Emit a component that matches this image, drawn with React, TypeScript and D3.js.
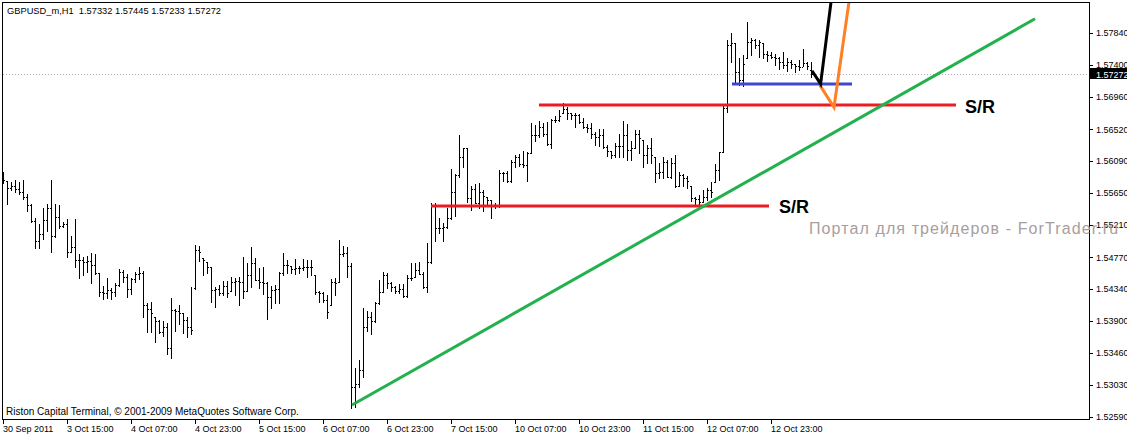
import React from 'react';
import * as d3 from 'd3';

const opens = [
  1.5589, 1.5581, 1.5572, 1.5574, 1.5570, 1.5566, 1.5559, 1.5548, 1.5527, 1.5499,
  1.5509, 1.5528, 1.5544, 1.5506, 1.5532, 1.5520, 1.5522, 1.5484, 1.5491, 1.5473,
  1.5473, 1.5471, 1.5472, 1.5466, 1.5456, 1.5429, 1.5428, 1.5432, 1.5429, 1.5439,
  1.5457, 1.5450, 1.5434, 1.5447, 1.5454, 1.5456, 1.5412, 1.5406, 1.5395, 1.5390,
  1.5375, 1.5382, 1.5353, 1.5405, 1.5404, 1.5401, 1.5391, 1.5382, 1.5435, 1.5487,
  1.5476, 1.5471, 1.5464, 1.5432, 1.5434, 1.5428, 1.5438, 1.5431, 1.5443, 1.5445,
  1.5443, 1.5431, 1.5453, 1.5469, 1.5446, 1.5443, 1.5442, 1.5423, 1.5432, 1.5434,
  1.5456, 1.5466, 1.5465, 1.5461, 1.5462, 1.5462, 1.5464, 1.5464, 1.5453, 1.5429,
  1.5428, 1.5419, 1.5412, 1.5443, 1.5443, 1.5481, 1.5483, 1.5465, 1.5300, 1.5304,
  1.5323, 1.5382, 1.5395, 1.5390, 1.5414, 1.5429, 1.5453, 1.5442, 1.5436, 1.5431,
  1.5434, 1.5424, 1.5449, 1.5450, 1.5460, 1.5454, 1.5436, 1.5471, 1.5548, 1.5517,
  1.5517, 1.5518, 1.5531, 1.5566, 1.5589, 1.5614, 1.5626, 1.5558, 1.5570, 1.5551,
  1.5566, 1.5559, 1.5555, 1.5548, 1.5548, 1.5592, 1.5592, 1.5581, 1.5607, 1.5614,
  1.5604, 1.5603, 1.5620, 1.5644, 1.5644, 1.5655, 1.5646, 1.5632, 1.5665, 1.5665,
  1.5674, 1.5680, 1.5674, 1.5671, 1.5671, 1.5662, 1.5655, 1.5654, 1.5646, 1.5641,
  1.5644, 1.5628, 1.5622, 1.5617, 1.5629, 1.5629, 1.5644, 1.5624, 1.5626, 1.5646,
  1.5637, 1.5617, 1.5626, 1.5614, 1.5592, 1.5594, 1.5607, 1.5587, 1.5606, 1.5574,
  1.5589, 1.5585, 1.5574, 1.5558, 1.5557, 1.5553, 1.5559, 1.5569, 1.5580, 1.5596,
  1.5621, 1.5681, 1.5767, 1.5770, 1.5730, 1.5719, 1.5749, 1.5771, 1.5774, 1.5767,
  1.5770, 1.5755, 1.5754, 1.5751, 1.5749, 1.5744, 1.5740, 1.5744, 1.5741, 1.5738,
  1.5737, 1.5743, 1.57332,
];

const highs = [
  1.5594, 1.5581, 1.5580, 1.5583, 1.5580, 1.5583, 1.5563, 1.5550, 1.5531, 1.5522,
  1.5544, 1.5550, 1.5583, 1.5550, 1.5548, 1.5525, 1.5529, 1.5506, 1.5529, 1.5481,
  1.5477, 1.5479, 1.5483, 1.5481, 1.5456, 1.5438, 1.5449, 1.5435, 1.5442, 1.5461,
  1.5460, 1.5454, 1.5449, 1.5457, 1.5464, 1.5458, 1.5414, 1.5416, 1.5395, 1.5391,
  1.5390, 1.5387, 1.5421, 1.5406, 1.5412, 1.5401, 1.5395, 1.5436, 1.5494, 1.5492,
  1.5476, 1.5471, 1.5464, 1.5436, 1.5439, 1.5445, 1.5445, 1.5450, 1.5449, 1.5450,
  1.5477, 1.5469, 1.5491, 1.5476, 1.5462, 1.5464, 1.5443, 1.5438, 1.5439, 1.5457,
  1.5483, 1.5473, 1.5465, 1.5475, 1.5465, 1.5475, 1.5473, 1.5473, 1.5453, 1.5431,
  1.5429, 1.5425, 1.5447, 1.5449, 1.5501, 1.5492, 1.5491, 1.5469, 1.5326, 1.5337,
  1.5408, 1.5404, 1.5402, 1.5416, 1.5446, 1.5457, 1.5456, 1.5443, 1.5438, 1.5440,
  1.5440, 1.5453, 1.5469, 1.5469, 1.5471, 1.5457, 1.5496, 1.5551, 1.5551, 1.5531,
  1.5524, 1.5544, 1.5598, 1.5591, 1.5644, 1.5626, 1.5626, 1.5574, 1.5577, 1.5579,
  1.5569, 1.5559, 1.5555, 1.5551, 1.5596, 1.5594, 1.5595, 1.5610, 1.5617, 1.5618,
  1.5622, 1.5621, 1.5661, 1.5658, 1.5663, 1.5661, 1.5662, 1.5666, 1.5670, 1.5678,
  1.5688, 1.5682, 1.5674, 1.5674, 1.5673, 1.5667, 1.5659, 1.5661, 1.5648, 1.5652,
  1.5652, 1.5630, 1.5622, 1.5633, 1.5646, 1.5663, 1.5659, 1.5636, 1.5651, 1.5651,
  1.5637, 1.5630, 1.5640, 1.5614, 1.5606, 1.5614, 1.5610, 1.5613, 1.5617, 1.5594,
  1.5591, 1.5588, 1.5574, 1.5559, 1.5562, 1.5569, 1.5572, 1.5580, 1.5604, 1.5621,
  1.5685, 1.5774, 1.5784, 1.5770, 1.5749, 1.5754, 1.5799, 1.5777, 1.5775, 1.5774,
  1.5770, 1.5759, 1.5758, 1.5755, 1.5751, 1.5758, 1.5749, 1.5747, 1.5741, 1.5747,
  1.5762, 1.5744, 1.57445,
];

const lows = [
  1.5579, 1.5550, 1.5569, 1.5566, 1.5563, 1.5557, 1.5540, 1.5525, 1.5490, 1.5490,
  1.5502, 1.5513, 1.5484, 1.5505, 1.5517, 1.5518, 1.5477, 1.5484, 1.5464, 1.5449,
  1.5453, 1.5457, 1.5442, 1.5454, 1.5424, 1.5420, 1.5421, 1.5420, 1.5424, 1.5438,
  1.5443, 1.5423, 1.5427, 1.5443, 1.5447, 1.5395, 1.5375, 1.5375, 1.5361, 1.5373,
  1.5369, 1.5345, 1.5339, 1.5376, 1.5386, 1.5373, 1.5368, 1.5372, 1.5434, 1.5472,
  1.5453, 1.5456, 1.5416, 1.5409, 1.5425, 1.5425, 1.5423, 1.5431, 1.5425, 1.5412,
  1.5421, 1.5431, 1.5436, 1.5446, 1.5435, 1.5427, 1.5393, 1.5408, 1.5414, 1.5414,
  1.5453, 1.5456, 1.5456, 1.5454, 1.5456, 1.5460, 1.5450, 1.5453, 1.5427, 1.5416,
  1.5416, 1.5394, 1.5412, 1.5425, 1.5443, 1.5479, 1.5450, 1.5271, 1.5272, 1.5300,
  1.5313, 1.5376, 1.5372, 1.5388, 1.5413, 1.5429, 1.5435, 1.5431, 1.5428, 1.5428,
  1.5423, 1.5423, 1.5446, 1.5450, 1.5454, 1.5435, 1.5429, 1.5469, 1.5499, 1.5510,
  1.5499, 1.5517, 1.5529, 1.5533, 1.5587, 1.5600, 1.5553, 1.5542, 1.5551, 1.5544,
  1.5540, 1.5550, 1.5531, 1.5544, 1.5546, 1.5581, 1.5580, 1.5580, 1.5600, 1.5602,
  1.5600, 1.5581, 1.5620, 1.5636, 1.5641, 1.5643, 1.5630, 1.5626, 1.5662, 1.5663,
  1.5674, 1.5666, 1.5666, 1.5655, 1.5661, 1.5654, 1.5648, 1.5640, 1.5630, 1.5629,
  1.5626, 1.5615, 1.5613, 1.5614, 1.5614, 1.5614, 1.5610, 1.5610, 1.5626, 1.5620,
  1.5600, 1.5606, 1.5606, 1.5580, 1.5585, 1.5585, 1.5587, 1.5585, 1.5573, 1.5574,
  1.5574, 1.5572, 1.5554, 1.5550, 1.5550, 1.5553, 1.5555, 1.5559, 1.5580, 1.5583,
  1.5621, 1.5676, 1.5744, 1.5717, 1.5712, 1.5711, 1.5749, 1.5754, 1.5763, 1.5751,
  1.5749, 1.5745, 1.5749, 1.5740, 1.5734, 1.5736, 1.5732, 1.5736, 1.5730, 1.5733,
  1.5738, 1.5734, 1.57233,
];

const closes = [
  1.5583, 1.5572, 1.5574, 1.5570, 1.5566, 1.5559, 1.5548, 1.5527, 1.5499, 1.5509,
  1.5528, 1.5544, 1.5506, 1.5532, 1.5520, 1.5522, 1.5484, 1.5491, 1.5473, 1.5473,
  1.5471, 1.5472, 1.5466, 1.5456, 1.5429, 1.5428, 1.5432, 1.5429, 1.5439, 1.5457,
  1.5450, 1.5434, 1.5447, 1.5454, 1.5456, 1.5412, 1.5406, 1.5401, 1.5390, 1.5375,
  1.5382, 1.5353, 1.5405, 1.5404, 1.5401, 1.5391, 1.5382, 1.5378, 1.5487, 1.5484,
  1.5473, 1.5464, 1.5432, 1.5434, 1.5428, 1.5438, 1.5428, 1.5443, 1.5445, 1.5443,
  1.5431, 1.5453, 1.5469, 1.5446, 1.5443, 1.5442, 1.5423, 1.5432, 1.5434, 1.5456,
  1.5466, 1.5466, 1.5461, 1.5462, 1.5462, 1.5464, 1.5464, 1.5464, 1.5429, 1.5428,
  1.5419, 1.5402, 1.5443, 1.5442, 1.5481, 1.5483, 1.5465, 1.5300, 1.5304, 1.5323,
  1.5382, 1.5395, 1.5390, 1.5414, 1.5429, 1.5453, 1.5442, 1.5436, 1.5431, 1.5434,
  1.5424, 1.5449, 1.5449, 1.5460, 1.5454, 1.5436, 1.5471, 1.5548, 1.5517, 1.5517,
  1.5518, 1.5531, 1.5566, 1.5589, 1.5614, 1.5626, 1.5558, 1.5570, 1.5551, 1.5566,
  1.5561, 1.5555, 1.5548, 1.5548, 1.5592, 1.5592, 1.5581, 1.5607, 1.5614, 1.5604,
  1.5603, 1.5620, 1.5644, 1.5644, 1.5655, 1.5646, 1.5632, 1.5665, 1.5665, 1.5670,
  1.5680, 1.5674, 1.5671, 1.5671, 1.5662, 1.5655, 1.5654, 1.5646, 1.5641, 1.5644,
  1.5628, 1.5622, 1.5617, 1.5629, 1.5629, 1.5644, 1.5624, 1.5626, 1.5646, 1.5640,
  1.5617, 1.5626, 1.5617, 1.5592, 1.5594, 1.5607, 1.5587, 1.5606, 1.5574, 1.5589,
  1.5585, 1.5581, 1.5558, 1.5557, 1.5553, 1.5559, 1.5569, 1.5566, 1.5596, 1.5621,
  1.5681, 1.5767, 1.5770, 1.5730, 1.5719, 1.5741, 1.5771, 1.5774, 1.5767, 1.5771,
  1.5755, 1.5754, 1.5751, 1.5749, 1.5744, 1.5740, 1.5744, 1.5741, 1.5738, 1.5737,
  1.5743, 1.5738, 1.57272,
];

const timeTickIndex = [0, 16, 32, 48, 64, 80, 96, 112, 128, 144, 160, 176, 192];
const timeTickLabels = [
  '30 Sep 2011', '3 Oct 15:00', '4 Oct 07:00', '4 Oct 23:00', '5 Oct 15:00',
  '6 Oct 07:00', '6 Oct 23:00', '7 Oct 15:00', '10 Oct 07:00', '10 Oct 23:00',
  '11 Oct 15:00', '12 Oct 07:00', '12 Oct 23:00',
];

const priceTickLabels = [
  '1.57840', '1.57400', '1.56960', '1.56520', '1.56090', '1.55650', '1.55210',
  '1.54770', '1.54340', '1.53900', '1.53460', '1.53030', '1.52590',
];

const currentPrice = 1.57272;
const titleText = 'GBPUSD_m,H1  1.57332 1.57445 1.57233 1.57272';
const footerText = 'Riston Capital Terminal, \u00A9 2001-2009 MetaQuotes Software Corp.';
const watermarkText = 'Портал для трейдеров - ForTrader.ru';

// hand-drawn annotations: [bar index, price]
const trendLine: [number, number][] = [[87.25, 1.5275], [258, 1.5803]];
const srUpper: [number, number][] = [[134, 1.5685], [238.25, 1.5685]];
const srLower: [number, number][] = [[107, 1.5547], [191.5, 1.5547]];
const blueLine: [number, number][] = [[182.25, 1.5714], [212.25, 1.5714]];
const blackPath: [number, number][] = [[202.25, 1.5732], [204.4, 1.5714], [207.1, 1.5830]];
const orangePath: [number, number][] = [[204.25, 1.5712], [207.75, 1.5682], [211.6, 1.5830]];
const srLabels: [number, number, string][] = [[240.5, 1.5674, 'S/R'], [194, 1.5538, 'S/R']];

const FONT = "'Liberation Sans', Arial, sans-serif";

export default function App() {
  const W = 1127;
  const H = 436;
  const x = d3.scaleLinear().domain([0, 200]).range([3, 803]);
  const y = d3.scaleLinear().domain([1.5259, 1.5784]).range([416.7, 32.7]);
  const line = d3.line<[number, number]>().x((d) => x(d[0])).y((d) => y(d[1]));

  const bars = opens.map((o, i) => {
    const xi = Math.round(x(i));
    const yh = Math.round(y(highs[i]));
    const yl = Math.round(y(lows[i]));
    const yo = Math.round(y(o));
    const yc = Math.round(y(closes[i]));
    return (
      <g key={i}>
        <rect x={xi} y={yh} width={1} height={Math.max(1, yl - yh + 1)} fill="#000" />
        <rect x={xi - 1} y={yo} width={1} height={1} fill="#000" />
        <rect x={xi + 1} y={yc} width={1} height={1} fill="#000" />
      </g>
    );
  });

  const yCur = y(currentPrice);

  return (
    <svg
      width={W}
      height={H}
      style={{ position: 'absolute', left: 0, top: 0, background: '#fff' }}
    >
      <defs>
        <clipPath id="plot">
          <rect x={3} y={3} width={1086} height={416} />
        </clipPath>
      </defs>
      <rect x={0} y={0} width={W} height={H} fill="#fff" />

      {/* current price dotted line */}
      <line
        x1={3}
        x2={1089}
        y1={Math.round(yCur) + 0.5}
        y2={Math.round(yCur) + 0.5}
        stroke="#b3abbb"
        strokeWidth={1}
        strokeDasharray="1,2"
        shapeRendering="crispEdges"
      />

      <g clipPath="url(#plot)" shapeRendering="crispEdges">{bars}</g>

      {/* frame */}
      <rect x={2.5} y={2.5} width={1087} height={417} fill="none" stroke="#000" strokeWidth={1} shapeRendering="crispEdges" />

      {/* annotations */}
      <g clipPath="url(#plot)" fill="none" strokeWidth={3} strokeLinecap="butt" strokeLinejoin="miter">
        <path d={line(srLower) || ''} stroke="#ed1c24" />
        <path d={line(srUpper) || ''} stroke="#ed1c24" />
        <path d={line(blueLine) || ''} stroke="#3f48cc" />
        <path d={line(trendLine) || ''} stroke="#22b14c" />
        <path d={line(orangePath) || ''} stroke="#ff7f27" />
        <path d={line(blackPath) || ''} stroke="#000" />
      </g>

      {srLabels.map(([i, p, t], k) => (
        <text key={k} x={x(i)} y={y(p)} fontFamily={FONT} fontSize={18} fontWeight="bold" fill="#000">
          {t}
        </text>
      ))}

      {/* title & footer */}
      <text x={7} y={14} fontFamily={FONT} fontSize={9.3} fill="#000" style={{ whiteSpace: 'pre' }}>
        {titleText}
      </text>
      <text x={6} y={414.5} fontFamily={FONT} fontSize={10} fill="#000">
        {footerText}
      </text>

      {/* price axis */}
      {priceTickLabels.map((t, k) => {
        const yy = y(parseFloat(t));
        return (
          <g key={k}>
            <line x1={1089} x2={1093} y1={Math.round(yy) + 0.5} y2={Math.round(yy) + 0.5} stroke="#000" shapeRendering="crispEdges" />
            <text x={1096} y={yy + 3.4} fontFamily={FONT} fontSize={9} fill="#000">
              {t}
            </text>
          </g>
        );
      })}

      {/* time axis */}
      {timeTickIndex.map((idx, k) => {
        const xx = Math.round(x(idx));
        return (
          <g key={k}>
            <line x1={xx + 0.5} x2={xx + 0.5} y1={419} y2={424} stroke="#000" shapeRendering="crispEdges" />
            <text x={xx} y={432} fontFamily={FONT} fontSize={9} fill="#000">
              {timeTickLabels[k]}
            </text>
          </g>
        );
      })}

      {/* current price label */}
      <rect x={1089} y={Math.round(yCur) - 6} width={38} height={11} fill="#000" />
      <text x={1096} y={yCur + 3.4} fontFamily={FONT} fontSize={9} fill="#fff">
        {currentPrice.toFixed(5)}
      </text>

      {/* watermark */}
      <text x={809} y={234} fontFamily={FONT} fontSize={16} letterSpacing={1.1} fill="#a89e9e">
        {watermarkText}
      </text>
    </svg>
  );
}
